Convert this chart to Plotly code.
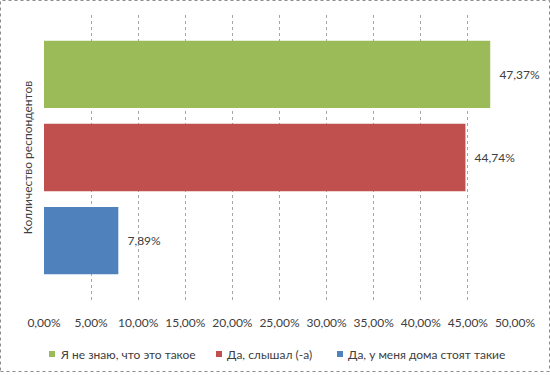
import plotly.graph_objects as go

category = ["Колличество респондентов"]
series_names = ["Да, у меня дома стоят такие", "Да, слышал (-а)", "Я не знаю, что это такое"]
series_values = [[0.0789], [0.4474], [0.4737]]
colors = ["#4F81BD", "#C0504D", "#9BBB59"]

fig = go.Figure()
for name, vals, col in zip(series_names, series_values, colors):
    fig.add_trace(go.Bar(
        y=category, x=vals, name=name, orientation="h",
        marker=dict(color=col, line=dict(width=0)),
        texttemplate="  %{x:.2%}", textposition="outside",
        textfont=dict(color="#404040", size=12),
        cliponaxis=False, constraintext="none",
    ))

L, T, PW, PH = 44, 15, 471, 285
def px_x(p):
    return (p - L) / PW
def px_y(p):
    return (T + PH - p) / PH

# manual legend (order: green, red, blue), positions in pixels
legend_square_x = [49, 216, 337]
shapes = [dict(type="rect", xref="paper", yref="paper",
               x0=px_x(0.5), x1=px_x(549.5), y0=px_y(371.5), y1=px_y(0.5),
               line=dict(color="#8C8C8C", width=1, dash="dot"), layer="below")]
annotations = []
for i, sx in zip([2, 1, 0], legend_square_x):
    shapes.append(dict(type="rect", xref="paper", yref="paper",
                       x0=px_x(sx), x1=px_x(sx + 6), y0=px_y(357), y1=px_y(351),
                       fillcolor=colors[i], line=dict(width=0)))
    annotations.append(dict(xref="paper", yref="paper", x=px_x(sx + 9), y=px_y(354),
                            xanchor="left", yanchor="middle", showarrow=False,
                            text=series_names[i], font=dict(size=12, color="#404040")))

fig.update_layout(
    width=550, height=375,
    margin=dict(l=L, r=550 - L - PW, t=T, b=375 - T - PH, autoexpand=False),
    paper_bgcolor="white", plot_bgcolor="white",
    font=dict(family="Lato, Open Sans, sans-serif", size=11, color="#404040"),
    separators=", ",
    barmode="group", bargap=0.126, bargroupgap=0.19,
    showlegend=False,
    xaxis=dict(range=[0, 0.5], dtick=0.05, tickformat=".2%", showgrid=True, automargin=False,
               gridcolor="#A6A6A6", griddash="dot", gridwidth=1, zeroline=False,
               showline=False, ticks="", ticklabelstandoff=14, fixedrange=True,
               tickfont=dict(size=12)),
    yaxis=dict(showticklabels=False, automargin=False,
               title=dict(text=category[0], font=dict(size=12, color="#404040"), standoff=7),
               showgrid=False, zeroline=False, showline=False),
    shapes=shapes,
    annotations=annotations,
)

fig.write_html("out.html", config={"displayModeBar": False},
               post_script="document.body.style.margin='0';")
